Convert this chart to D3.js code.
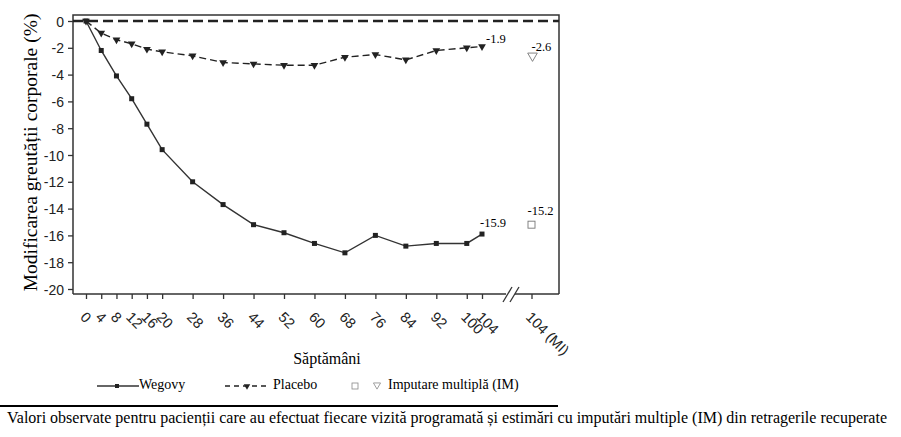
<!DOCTYPE html>
<html>
<head>
<meta charset="utf-8">
<script src="https://cdn.jsdelivr.net/npm/d3@7"></script>
<style>
    body { margin: 0; background: #fff; }
    .tick text { font-family: "Liberation Sans", Arial, sans-serif; font-size: 14px; fill: #222; }
    .tick line { stroke: #333; stroke-width: 1.3; }
    .serif { font-family: "Liberation Serif", "Times New Roman", serif; fill: #000; }
</style>
</head>
<body>
<svg id="chart"></svg>
<script>
// weeks of observation
const weeks = [0, 4, 8, 12, 16, 20, 28, 36, 44, 52, 60, 68, 76, 84, 92, 100, 104];
// mean change in body weight (%)
const wegovy = [0, -2.2, -4.1, -5.8, -7.7, -9.6, -12.0, -13.7, -15.2, -15.8, -16.6, -17.3, -16.0, -16.8, -16.6, -16.6, -15.9];
const placebo = [0, -0.9, -1.4, -1.7, -2.1, -2.3, -2.6, -3.1, -3.2, -3.3, -3.3, -2.7, -2.5, -2.9, -2.2, -2.0, -1.9];
// multiple imputation estimates at week 104, placed after the axis break
const miWeek = 117;
const miLabel = '104 (MI)';
const miWegovy = -15.2;
const miPlacebo = -2.6;
const yTicks = [0, -2, -4, -6, -8, -10, -12, -14, -16, -18, -20];

const width = 901, height = 437;
const frame = {left: 73, right: 559, top: 15, bottom: 294};

const svg = d3.select('#chart')
    .attr('width', width)
    .attr('height', height);

const x = d3.scaleLinear().domain([0, 104]).range([86, 482]);
const y = d3.scaleLinear().domain([0, -20]).range([21, 289]);

// frame (top, left, right) and bottom with a break
const frameG = svg.append('g').attr('stroke', '#333').attr('stroke-width', 1.5).attr('fill', 'none');
frameG.append('path')
    .attr('d', `M${frame.left},${frame.bottom}V${frame.top}H${frame.right}V${frame.bottom}`);
frameG.append('line')
    .attr('x1', frame.left).attr('x2', 506)
    .attr('y1', frame.bottom).attr('y2', frame.bottom);
frameG.append('line')
    .attr('x1', 515).attr('x2', frame.right)
    .attr('y1', frame.bottom).attr('y2', frame.bottom);
frameG.append('line').attr('x1', 503).attr('y1', 302).attr('x2', 512).attr('y2', 287).attr('stroke-width', 1.3);
frameG.append('line').attr('x1', 510).attr('y1', 302).attr('x2', 519).attr('y2', 287).attr('stroke-width', 1.3);

// y axis
const yAxis = d3.axisLeft(y).tickValues(yTicks).tickSize(5).tickSizeOuter(0).tickFormat(d => d);
const yAxisG = svg.append('g')
    .attr('transform', `translate(${frame.left},0)`)
    .call(yAxis);
yAxisG.select('.domain').remove();
yAxisG.selectAll('.tick text').attr('x', -9).attr('dy', '0.36em');

// x axis
const xAxis = d3.axisBottom(x)
    .tickValues(weeks.concat([miWeek]))
    .tickSize(5)
    .tickSizeOuter(0)
    .tickFormat(d => d === miWeek ? miLabel : d);
const xAxisG = svg.append('g')
    .attr('transform', `translate(0,${frame.bottom})`)
    .call(xAxis);
xAxisG.select('.domain').remove();
xAxisG.selectAll('.tick text')
    .attr('x', 0).attr('y', 0).attr('dy', 0)
    .attr('text-anchor', 'start')
    .attr('transform', 'translate(-7,24) rotate(45)')
    .style('font-size', '14.5px');

// zero reference line
svg.append('line')
    .attr('x1', frame.left).attr('x2', frame.right)
    .attr('y1', y(0)).attr('y2', y(0))
    .attr('stroke', '#222')
    .attr('stroke-width', 2.5)
    .attr('stroke-dasharray', '10,5');

const line = d3.line()
    .x((d, i) => x(weeks[i]))
    .y(d => y(d));

// placebo
svg.append('path')
    .datum(placebo)
    .attr('d', line)
    .attr('fill', 'none')
    .attr('stroke', '#222')
    .attr('stroke-width', 1.4)
    .attr('stroke-dasharray', '7,4');

const tri = d3.symbol().type(d3.symbolTriangle).size(26);
svg.append('g').selectAll('path')
    .data(placebo)
    .join('path')
    .attr('d', tri)
    .attr('transform', (d, i) => `translate(${x(weeks[i])},${y(d)}) rotate(180)`)
    .attr('fill', '#222');

// wegovy
svg.append('path')
    .datum(wegovy)
    .attr('d', line)
    .attr('fill', 'none')
    .attr('stroke', '#333')
    .attr('stroke-width', 1.4);

svg.append('g').selectAll('rect')
    .data(wegovy)
    .join('rect')
    .attr('x', (d, i) => x(weeks[i]) - 2.5)
    .attr('y', d => y(d) - 2.5)
    .attr('width', 5)
    .attr('height', 5)
    .attr('fill', '#222');

// multiple imputation markers
svg.append('rect')
    .attr('x', x(miWeek) - 3.5)
    .attr('y', y(miWegovy) - 3.5)
    .attr('width', 7).attr('height', 7)
    .attr('fill', 'none').attr('stroke', '#777').attr('stroke-width', 0.9);
svg.append('path')
    .attr('d', d3.symbol().type(d3.symbolTriangle).size(40))
    .attr('transform', `translate(${x(miWeek) + 1},${y(miPlacebo)}) rotate(180)`)
    .attr('fill', 'none').attr('stroke', '#777').attr('stroke-width', 0.9);

// value labels
const last = weeks.length - 1;
const valueLabels = [
    {xv: weeks[last], yv: placebo[last], dx: 4, dy: -3},
    {xv: weeks[last], yv: wegovy[last], dx: -2, dy: -7},
    {xv: miWeek, yv: miPlacebo, dx: 0, dy: -5},
    {xv: miWeek, yv: miWegovy, dx: -4, dy: -10}
];
svg.append('g').selectAll('text')
    .data(valueLabels)
    .join('text')
    .attr('class', 'serif')
    .attr('x', d => x(d.xv) + d.dx)
    .attr('y', d => y(d.yv) + d.dy)
    .style('font-size', '12.5px')
    .text(d => d.yv.toFixed(1));

// axis titles
svg.append('text')
    .attr('class', 'serif')
    .attr('transform', `translate(37,${(frame.top + frame.bottom) / 2 - 2}) rotate(-90)`)
    .attr('text-anchor', 'middle')
    .style('font-size', '19.5px')
    .text('Modificarea greutății corporale (%)');

svg.append('text')
    .attr('class', 'serif')
    .attr('x', 327)
    .attr('y', 364)
    .attr('text-anchor', 'middle')
    .style('font-size', '16px')
    .text('Săptămâni');

// legend
const legend = svg.append('g').attr('transform', 'translate(0,386)');
legend.append('line').attr('x1', 97).attr('x2', 139).attr('y1', 0).attr('y2', 0)
    .attr('stroke', '#333').attr('stroke-width', 1.4);
legend.append('rect').attr('x', 115).attr('y', -2).attr('width', 4).attr('height', 4).attr('fill', '#222');
legend.append('text').attr('class', 'serif').attr('x', 139).attr('y', 3)
    .style('font-size', '14px').text('Wegovy');

legend.append('line').attr('x1', 225).attr('x2', 268).attr('y1', 0).attr('y2', 0)
    .attr('stroke', '#222').attr('stroke-width', 1.4).attr('stroke-dasharray', '5,4');
legend.append('path').attr('d', d3.symbol().type(d3.symbolTriangle).size(18))
    .attr('transform', 'translate(247,0) rotate(180)').attr('fill', '#222');
legend.append('text').attr('class', 'serif').attr('x', 273).attr('y', 3)
    .style('font-size', '14px').text('Placebo');

legend.append('rect').attr('x', 352).attr('y', -3).attr('width', 6).attr('height', 6)
    .attr('fill', 'none').attr('stroke', '#888').attr('stroke-width', 0.8);
legend.append('path').attr('d', d3.symbol().type(d3.symbolTriangle).size(22))
    .attr('transform', 'translate(377,-1) rotate(180)')
    .attr('fill', 'none').attr('stroke', '#888').attr('stroke-width', 0.8);
legend.append('text').attr('class', 'serif').attr('x', 388).attr('y', 3)
    .style('font-size', '14px').text('Imputare multiplă (IM)');

// rule and footnote
svg.append('line')
    .attr('x1', 0).attr('x2', 558)
    .attr('y1', 406).attr('y2', 406)
    .attr('stroke', '#000').attr('stroke-width', 2);

svg.append('text')
    .attr('class', 'serif')
    .attr('x', 7)
    .attr('y', 423)
    .attr('textLength', 880)
    .style('font-size', '16px')
    .text('Valori observate pentru pacienții care au efectuat fiecare vizită programată și estimări cu imputări multiple (IM) din retragerile recuperate');
</script>
</body>
</html>
